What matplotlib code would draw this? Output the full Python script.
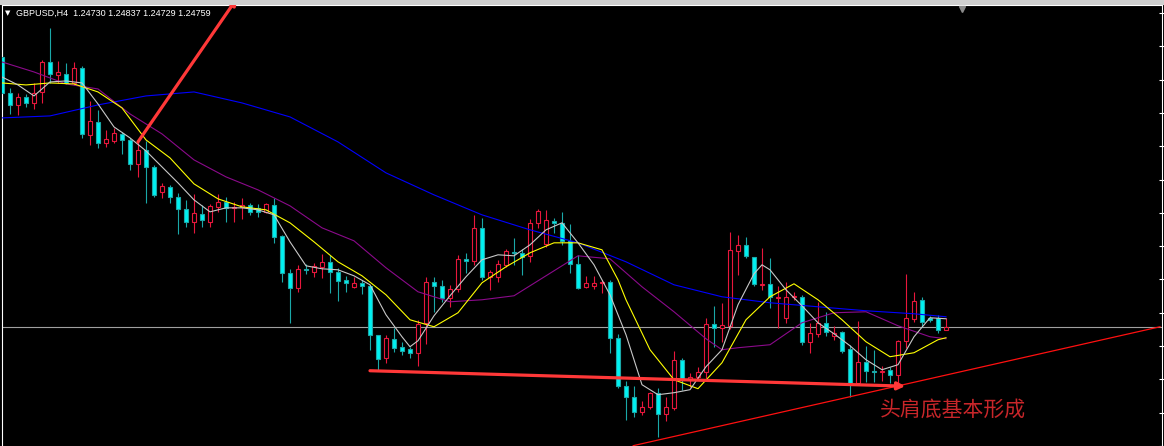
import matplotlib.pyplot as plt
from matplotlib.patches import Rectangle

# ---- candle data (GBPUSD H4) ----
opens = [
    1.27189, 1.26865, 1.26757, 1.26829, 1.26775, 1.26874, 1.27144, 1.27027, 1.27036, 1.26955,
    1.27090, 1.26487, 1.26604, 1.26415, 1.26433, 1.26496, 1.26442, 1.26226, 1.26352, 1.26199,
    1.25974, 1.26019, 1.25929, 1.25821, 1.25704, 1.25776, 1.25704, 1.25839, 1.25884, 1.25830,
    1.25839, 1.25857, 1.25830, 1.25794, 1.25857, 1.25578, 1.25245, 1.25110, 1.25281, 1.25254,
    1.25299, 1.25344, 1.25254, 1.25182, 1.25119, 1.25155, 1.25128, 1.24687, 1.24480, 1.24651,
    1.24579, 1.24561, 1.24525, 1.24795, 1.25164, 1.25128, 1.25020, 1.25101, 1.25371, 1.25353,
    1.25650, 1.25209, 1.25209, 1.25317, 1.25434, 1.25425, 1.25398, 1.25695, 1.25506, 1.25713,
    1.25695, 1.25533, 1.25326, 1.25119, 1.25128, 1.25155, 1.25164, 1.24660, 1.24228, 1.24129,
    1.23994, 1.24039, 1.24165, 1.23976, 1.24030, 1.24462, 1.24282, 1.24309, 1.24354, 1.24786,
    1.24750, 1.24768, 1.25443, 1.25497, 1.25389, 1.25137, 1.25146, 1.25020, 1.24840, 1.25029,
    1.25029, 1.24624, 1.24696, 1.24795, 1.24678, 1.24714, 1.24561, 1.24255, 1.24444, 1.24363,
    1.24354, 1.24372, 1.24327, 1.24633, 1.24831, 1.25002, 1.24840, 1.24840, 1.24730,
]
highs = [
    1.27270, 1.26910, 1.26865, 1.26856, 1.26955, 1.27162, 1.27450, 1.27153, 1.27135, 1.27144,
    1.27108, 1.26793, 1.26712, 1.26532, 1.26550, 1.26514, 1.26460, 1.26424, 1.26433, 1.26217,
    1.26055, 1.26037, 1.25965, 1.25902, 1.25956, 1.25857, 1.25866, 1.25956, 1.25929, 1.25884,
    1.25920, 1.25875, 1.25866, 1.25875, 1.25920, 1.25587, 1.25281, 1.25317, 1.25326, 1.25335,
    1.25416, 1.25407, 1.25290, 1.25218, 1.25209, 1.25182, 1.25137, 1.24687, 1.24687, 1.24750,
    1.24624, 1.24579, 1.24822, 1.25209, 1.25209, 1.25182, 1.25137, 1.25407, 1.25425, 1.25767,
    1.25740, 1.25272, 1.25362, 1.25461, 1.25560, 1.25461, 1.25731, 1.25821, 1.25812, 1.25740,
    1.25794, 1.25686, 1.25407, 1.25218, 1.25218, 1.25182, 1.25182, 1.24696, 1.24273, 1.24228,
    1.24093, 1.24174, 1.24210, 1.24129, 1.24543, 1.24480, 1.24345, 1.24399, 1.24840, 1.24948,
    1.24975, 1.25614, 1.25587, 1.25569, 1.25389, 1.25470, 1.25380, 1.25128, 1.25164, 1.25074,
    1.25047, 1.24795, 1.24984, 1.24894, 1.24768, 1.24723, 1.24597, 1.24813, 1.24588, 1.24552,
    1.24408, 1.24399, 1.24642, 1.25236, 1.25074, 1.25029, 1.24858, 1.24867, 1.24837,
]
lows = [
    1.26712, 1.26676, 1.26667, 1.26739, 1.26721, 1.26775, 1.26955, 1.26955, 1.26946, 1.26937,
    1.26460, 1.26397, 1.26370, 1.26379, 1.26415, 1.26316, 1.26172, 1.26109, 1.25875, 1.25929,
    1.25920, 1.25875, 1.25596, 1.25659, 1.25605, 1.25659, 1.25659, 1.25794, 1.25704, 1.25704,
    1.25731, 1.25767, 1.25749, 1.25785, 1.25515, 1.25164, 1.24795, 1.25074, 1.25236, 1.25209,
    1.25200, 1.25065, 1.24993, 1.25074, 1.25110, 1.25056, 1.24552, 1.24372, 1.24435, 1.24534,
    1.24507, 1.24480, 1.24408, 1.24606, 1.24894, 1.24984, 1.24939, 1.25074, 1.25245, 1.25317,
    1.25182, 1.25092, 1.25164, 1.25299, 1.25317, 1.25227, 1.25344, 1.25650, 1.25479, 1.25605,
    1.25497, 1.25245, 1.25101, 1.25110, 1.25101, 1.25065, 1.24525, 1.24210, 1.23922, 1.23949,
    1.23967, 1.24021, 1.23769, 1.23913, 1.24012, 1.24192, 1.24219, 1.24282, 1.24300, 1.24579,
    1.24624, 1.24741, 1.25227, 1.25380, 1.25128, 1.25092, 1.24930, 1.24750, 1.24795, 1.25002,
    1.24597, 1.24525, 1.24669, 1.24678, 1.24642, 1.24525, 1.24129, 1.24237, 1.24264, 1.24264,
    1.24273, 1.24255, 1.24255, 1.24570, 1.24804, 1.24759, 1.24804, 1.24705, 1.24729,
]
closes = [
    1.26865, 1.26757, 1.26829, 1.26775, 1.26865, 1.27144, 1.27036, 1.27054, 1.26955, 1.27090,
    1.26496, 1.26613, 1.26415, 1.26451, 1.26505, 1.26442, 1.26226, 1.26352, 1.26199, 1.25947,
    1.26028, 1.25929, 1.25821, 1.25704, 1.25785, 1.25722, 1.25848, 1.25884, 1.25830, 1.25839,
    1.25857, 1.25794, 1.25794, 1.25866, 1.25569, 1.25245, 1.25110, 1.25281, 1.25272, 1.25308,
    1.25344, 1.25254, 1.25173, 1.25155, 1.25155, 1.25128, 1.24687, 1.24471, 1.24660, 1.24570,
    1.24543, 1.24525, 1.24786, 1.25164, 1.25128, 1.25020, 1.25101, 1.25371, 1.25353, 1.25650,
    1.25209, 1.25254, 1.25326, 1.25443, 1.25425, 1.25389, 1.25695, 1.25803, 1.25722, 1.25695,
    1.25533, 1.25326, 1.25110, 1.25155, 1.25155, 1.25164, 1.24660, 1.24228, 1.24129, 1.23994,
    1.24039, 1.24165, 1.23976, 1.24039, 1.24462, 1.24282, 1.24309, 1.24354, 1.24786, 1.24750,
    1.24777, 1.25452, 1.25497, 1.25398, 1.25146, 1.25146, 1.25029, 1.25029, 1.25029, 1.25038,
    1.24624, 1.24705, 1.24795, 1.24714, 1.24705, 1.24543, 1.24255, 1.24444, 1.24363, 1.24354,
    1.24363, 1.24327, 1.24633, 1.24840, 1.24993, 1.24804, 1.24822, 1.24732, 1.24759,
]

# ---- moving averages (bar index, price) ----
ma_fast_x = [0, 2, 4, 6, 8, 10, 12, 14, 16, 18, 20, 22, 24, 26, 28, 30, 32, 34, 36, 38,
             40, 42, 44, 46, 48, 50, 51, 52, 54, 56, 58, 60, 62, 64, 66, 68, 70, 72, 74, 76,
             78, 80, 82, 84, 86, 88, 90, 92, 94, 95, 96, 98, 100, 102, 104, 106, 108, 110,
             112, 114, 116, 118]
ma_fast_y = [1.27009, 1.26937, 1.26838, 1.26964, 1.26973, 1.26955, 1.26766, 1.26559, 1.26460,
             1.26343, 1.26199, 1.26055, 1.25902, 1.25794, 1.25830, 1.25830, 1.25812, 1.25767,
             1.25524, 1.25308, 1.25281, 1.25272, 1.25218, 1.25137, 1.24867, 1.24669, 1.24579,
             1.24633, 1.24858, 1.25038, 1.25209, 1.25362, 1.25407, 1.25398, 1.25497, 1.25632,
             1.25695, 1.25515, 1.25317, 1.25047, 1.24687, 1.24237, 1.24147, 1.24165, 1.24192,
             1.24399, 1.24552, 1.24957, 1.25236, 1.25317, 1.25272, 1.25092, 1.24948, 1.24795,
             1.24696, 1.24588, 1.24462, 1.24372, 1.24417, 1.24669, 1.24840, 1.24831]

ma_mid_x = [0, 3, 6, 9, 12, 15, 18, 21, 24, 27, 30, 33, 36, 39, 42, 45, 48, 51, 54, 57,
            60, 63, 66, 69, 72, 75, 77, 78, 81, 84, 87, 90, 93, 96, 99, 102, 105, 108, 111,
            114, 117, 118]
ma_mid_y = [1.26955, 1.26937, 1.26955, 1.26946, 1.26874, 1.26730, 1.26442, 1.26280, 1.26046,
            1.25911, 1.25839, 1.25812, 1.25695, 1.25524, 1.25344, 1.25218, 1.25047, 1.24822,
            1.24759, 1.24885, 1.25155, 1.25299, 1.25425, 1.25515, 1.25515, 1.25452, 1.25182,
            1.25002, 1.24552, 1.24282, 1.24201, 1.24435, 1.24822, 1.25029, 1.25146, 1.25002,
            1.24822, 1.24624, 1.24489, 1.24525, 1.24642, 1.24660]

ma_slow_x = [0, 4, 8, 12, 16, 20, 24, 28, 32, 36, 40, 44, 48, 52, 56, 60, 64, 68, 72, 76,
             80, 84, 88, 90, 92, 96, 100, 104, 108, 112, 116, 118]
ma_slow_y = [1.27144, 1.27054, 1.26946, 1.26901, 1.26676, 1.26496, 1.26262, 1.26109, 1.25992,
             1.25848, 1.25650, 1.25533, 1.25290, 1.25074, 1.24984, 1.25002, 1.25038, 1.25218,
             1.25398, 1.25371, 1.25119, 1.24894, 1.24651, 1.24552, 1.24570, 1.24597, 1.24795,
             1.24885, 1.24894, 1.24768, 1.24669, 1.24651]

ma_long_x = [0, 6, 12, 18, 24, 30, 36, 42, 48, 54, 60, 66, 72, 78, 84, 90, 96, 102, 108,
             114, 118]
ma_long_y = [1.26640, 1.26658, 1.26757, 1.26838, 1.26874, 1.26775, 1.26649, 1.26424, 1.26145,
             1.25947, 1.25767, 1.25632, 1.25515, 1.25344, 1.25137, 1.25029, 1.24975, 1.24939,
             1.24903, 1.24876, 1.24849]

# ---- drawn objects (bar index, price) ----
last_price = 1.24759
arrow_up = [(17.0, 1.26424), (29.4, 1.27720)]
arrow_neck = [(46.0, 1.24363), (112.9, 1.24224)]
trend_line = [(78.9, 1.23688), (144.75, 1.24759)]
note_pos = (109.75, 1.24012)
note_text = "头肩底基本形成"
header = "GBPUSD,H4  1.24730 1.24837 1.24729 1.24759"

BULL = "#e8173c"
BEAR_FACE = "#00f2f2"
BEAR_EDGE = "#1aa8a8"
ARROW = "#ff3838"

W, H = 1164, 446
fig = plt.figure(figsize=(W / 100, H / 100), dpi=100, facecolor="black")
fig.patches.append(Rectangle((0, 441 / H), 1, 5 / H, transform=fig.transFigure,
                             facecolor="#cfcfcf", edgecolor="none"))
ax = fig.add_axes([1.5 / W, 0, 1160.5 / W, 441 / H], facecolor="black")

x = list(range(len(opens)))
bull = [c >= o for o, c in zip(opens, closes)]
wick_col = [BULL if b else BEAR_EDGE for b in bull]
face_col = ["black" if b else BEAR_FACE for b in bull]

ax.vlines(x, lows, highs, colors=wick_col, linewidth=0.8, zorder=2)
ax.bar(x, [c - o for o, c in zip(opens, closes)], bottom=opens, width=0.55,
       color=face_col, edgecolor=wick_col, linewidth=0.8, zorder=3)

# moving averages over the candles
ax.plot(ma_long_x, ma_long_y, color="#0000ff", lw=0.8, zorder=4)
ax.plot(ma_slow_x, ma_slow_y, color="#8b0a8b", lw=0.8, zorder=4)
ax.plot(ma_mid_x, ma_mid_y, color="#ffff00", lw=0.8, zorder=5)
ax.plot(ma_fast_x, ma_fast_y, color="#c8c8c8", lw=0.8, zorder=6)

# current price line
ax.axhline(last_price, color="#a0a0a0", lw=0.8, zorder=1)

# hand-drawn objects
ax.plot(*zip(*trend_line), color="#ff1010", lw=0.9, zorder=7, clip_on=False)
ax.annotate("", xy=arrow_up[1], xytext=arrow_up[0], annotation_clip=False,
            arrowprops=dict(arrowstyle="-|>", color=ARROW, lw=2.3,
                            mutation_scale=10, shrinkA=0, shrinkB=0), zorder=8)
ax.annotate("", xy=arrow_neck[1], xytext=arrow_neck[0], annotation_clip=False,
            arrowprops=dict(arrowstyle="-|>", color=ARROW, lw=2.3,
                            mutation_scale=11, shrinkA=0, shrinkB=0), zorder=8)
ax.text(note_pos[0], note_pos[1], note_text, fontsize=15, color="#c8262a",
        family=["Noto Sans CJK SC", "DejaVu Sans"], ha="left", va="center", zorder=9)

# header
fig.text(5 / W, (H - 13) / H, "\u25bc", fontsize=5, color="white", va="center",
         family="DejaVu Sans")
fig.text(16 / W, (H - 13) / H, header, fontsize=6.5, color="white", va="center",
         family="Liberation Sans")
ax.plot([0.8277], [0.99], marker="v", ms=5, color="#8a8a8a", transform=ax.transAxes,
        clip_on=False, zorder=10)

# frame and price-scale ticks
ax.set_xlim(-0.06, 145.0)
ax.set_ylim(1.23688, 1.27657)
for side in ("left", "top", "right"):
    ax.spines[side].set_color("white")
    ax.spines[side].set_linewidth(0.8)
ax.spines["bottom"].set_visible(False)
ax.set_xticks([])
ax.yaxis.tick_right()
ax.set_yticks([1.23685, 1.23985, 1.24285, 1.24585, 1.24885, 1.25185, 1.25485,
               1.25785, 1.26085, 1.26385, 1.26685, 1.26985, 1.27285, 1.27585])
ax.tick_params(axis="y", direction="inout", length=5, width=0.8, color="white",
               labelright=False, labelleft=False)

fig.savefig("out.png", dpi=100, facecolor=fig.get_facecolor())
